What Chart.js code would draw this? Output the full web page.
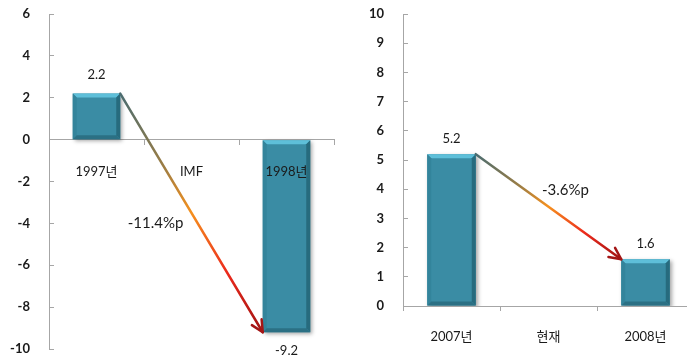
<!DOCTYPE html>
<html>
<head>
<meta charset="utf-8">
<script src="https://cdn.jsdelivr.net/npm/chart.js@4/dist/chart.umd.min.js"></script>
<style>
  html, body { margin: 0; padding: 0; background: #fff; overflow: hidden; width: 687px; height: 358px; }
  canvas { position: absolute; top: 0; }
  #crisis { left: 0; }
  #now { left: 350px; }
</style>
</head>
<body>
<canvas id="crisis" width="343" height="358"></canvas>
<canvas id="now" width="350" height="358"></canvas>
<script>
// 경제성장률 (%) — 외환위기 전후
const crisisCategories = ['1997년', 'IMF', '1998년'];
const crisisValues = [2.2, null, -9.2];
const crisisTicks = { min: -10, max: 6, step: 2 };

// 경제성장률 (%) — 현재 전후
const nowCategories = ['2007년', '현재', '2008년'];
const nowValues = [5.2, null, 1.6];
const nowTicks = { min: 0, max: 10, step: 1 };

const FONT = "Lato, 'Noto Sans CJK KR', sans-serif";
const AXIS_GRAY = '#a6a6a6';
const BAR_COLOR = '#3a8ca4';

// soft drop shadow behind the bars
const barShadow = {
  id: 'barShadow',
  beforeDatasetDraw(chart) {
    const ctx = chart.ctx;
    ctx.save();
    ctx.shadowColor = 'rgba(0,0,0,0.35)';
    ctx.shadowBlur = 4;
    ctx.shadowOffsetX = 2;
    ctx.shadowOffsetY = 2;
  },
  afterDatasetDraw(chart) {
    chart.ctx.restore();
  }
};

// bevelled edges on each bar
const barBevel = {
  id: 'barBevel',
  afterDatasetsDraw(chart) {
    const ctx = chart.ctx;
    const meta = chart.getDatasetMeta(0);
    meta.data.forEach((bar, i) => {
      if (chart.data.datasets[0].data[i] == null) return;
      const { x, y, base, width } = bar.getProps(['x', 'y', 'base', 'width'], true);
      const l = x - width / 2, r = x + width / 2;
      const t = Math.min(y, base), b = Math.max(y, base);
      const e = 4;
      const face = (pts, color) => {
        ctx.beginPath();
        ctx.moveTo(pts[0][0], pts[0][1]);
        for (let k = 1; k < pts.length; k++) ctx.lineTo(pts[k][0], pts[k][1]);
        ctx.closePath();
        ctx.fillStyle = color;
        ctx.fill();
      };
      ctx.save();
      face([[l, t], [r, t], [r - e, t + e], [l + e, t + e]], '#5ebfd9');
      face([[l, t], [l + e, t + e], [l + e, b - e], [l, b]], '#33849b');
      face([[r, t], [r, b], [r - e, b - e], [r - e, t + e]], '#276b7e');
      face([[l, b], [l + e, b - e], [r - e, b - e], [r, b]], '#2b7084');
      ctx.restore();
    });
  }
};

// value labels above / below each bar
const valueLabels = {
  id: 'valueLabels',
  afterDatasetsDraw(chart, args, opts) {
    const ctx = chart.ctx;
    const meta = chart.getDatasetMeta(0);
    ctx.save();
    ctx.font = '13px ' + FONT;
    ctx.fillStyle = '#1a1a1a';
    ctx.textAlign = 'center';
    ctx.textBaseline = 'middle';
    meta.data.forEach((bar, i) => {
      const v = chart.data.datasets[0].data[i];
      if (v == null) return;
      const ty = v >= 0 ? bar.y - opts.gap : bar.y + opts.gap;
      ctx.fillText(v.toFixed(1), bar.x, ty);
    });
    ctx.restore();
  }
};

// gradient arrow from the first bar to the last one, with the change in %p
const changeArrow = {
  id: 'changeArrow',
  afterDatasetsDraw(chart, args, opts) {
    const ctx = chart.ctx;
    const data = chart.data.datasets[0].data;
    const meta = chart.getDatasetMeta(0);
    const first = meta.data[0], last = meta.data[data.length - 1];
    const x0 = first.x + first.width / 2, y0 = first.y;
    const x1 = last.x - last.width / 2, y1 = last.y;

    const g = ctx.createLinearGradient(x0, y0, x1, y1);
    g.addColorStop(0, '#4a6c70');
    g.addColorStop(0.3, '#9a7d45');
    g.addColorStop(0.5, '#f5901e');
    g.addColorStop(0.75, '#ec2a1c');
    g.addColorStop(1, '#a01212');

    ctx.save();
    ctx.lineCap = 'round';
    ctx.lineJoin = 'round';
    ctx.lineWidth = 2.5;
    ctx.strokeStyle = g;
    ctx.beginPath();
    ctx.moveTo(x0, y0);
    ctx.lineTo(x1, y1);
    ctx.stroke();

    const ang = Math.atan2(y1 - y0, x1 - x0);
    const len = 13, spread = 0.45;
    ctx.strokeStyle = '#a31515';
    ctx.beginPath();
    ctx.moveTo(x1 - len * Math.cos(ang - spread), y1 - len * Math.sin(ang - spread));
    ctx.lineTo(x1, y1);
    ctx.lineTo(x1 - len * Math.cos(ang + spread), y1 - len * Math.sin(ang + spread));
    ctx.stroke();

    const diff = data[data.length - 1] - data[0];
    ctx.font = '15px ' + FONT;
    ctx.fillStyle = '#1a1a1a';
    ctx.textAlign = 'center';
    ctx.textBaseline = 'middle';
    ctx.fillText(diff.toFixed(1) + '%p', (x0 + x1) / 2 + opts.dx, (y0 + y1) / 2 + opts.dy);
    ctx.restore();
  }
};

function makePanel(id, categories, values, ticks, cfg) {
  return new Chart(document.getElementById(id), {
    type: 'bar',
    data: {
      labels: categories,
      datasets: [{
        data: values,
        backgroundColor: BAR_COLOR,
        borderWidth: 0,
        barPercentage: 0.5,
        categoryPercentage: 1.0
      }]
    },
    options: {
      responsive: false,
      animation: false,
      devicePixelRatio: 1,
      layout: { padding: cfg.padding },
      plugins: {
        legend: { display: false },
        tooltip: { enabled: false },
        valueLabels: { gap: cfg.labelGap },
        changeArrow: cfg.arrowText
      },
      scales: {
        x: {
          position: cfg.xPosition,
          grid: { drawOnChartArea: false, drawTicks: true, tickLength: 5, color: AXIS_GRAY, offset: true },
          border: { color: AXIS_GRAY, width: 1 },
          ticks: { z: 1, color: '#1a1a1a', font: { family: FONT, size: 13 }, padding: cfg.xPad, maxRotation: 0, autoSkip: false },
          afterFit: s => { s.height = cfg.xHeight; }
        },
        y: {
          min: ticks.min,
          max: ticks.max,
          grid: { drawOnChartArea: false, drawTicks: true, tickLength: -5, color: AXIS_GRAY },
          border: { color: AXIS_GRAY, width: 1 },
          ticks: { stepSize: ticks.step, color: '#1a1a1a', font: { family: FONT, size: 13, weight: 'bold' }, padding: 24 },
          afterFit: s => {
            s.width = cfg.yWidth;
            s.paddingTop = 0;
            s.paddingBottom = 0;
          }
        }
      }
    },
    plugins: [barShadow, barBevel, valueLabels, changeArrow]
  });
}

makePanel('crisis', crisisCategories, crisisValues, crisisTicks, {
  padding: { top: 14, right: 9, bottom: 9, left: 0 },
  xPosition: { y: 0 },
  xHeight: 0,
  xPad: 19,
  yWidth: 49,
  labelGap: 19,
  arrowText: { dx: -36, dy: 10 }
});

makePanel('now', nowCategories, nowValues, nowTicks, {
  padding: { top: 14, right: 6, bottom: 0, left: 0 },
  xPosition: 'bottom',
  xHeight: 52,
  xPad: 18,
  yWidth: 53,
  labelGap: 15,
  arrowText: { dx: 17, dy: -17 }
});
</script>
</body>
</html>
